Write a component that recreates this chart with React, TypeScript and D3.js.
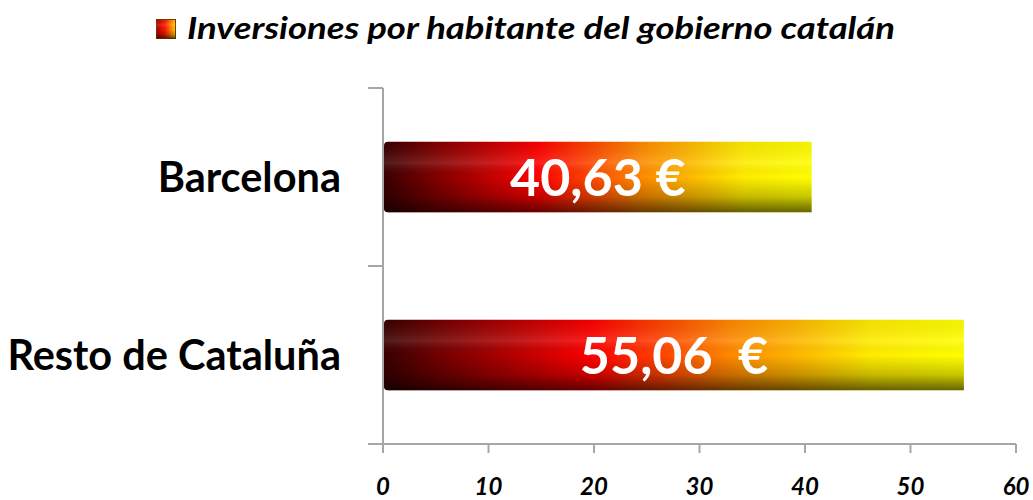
import React from "react";
import * as d3 from "d3";

const title = "Inversiones por habitante del gobierno catalán";
const categories = ["Barcelona", "Resto de Cataluña"];
const values = [40.63, 55.06];
const valueLabels = ["40,63 €", "55,06  €"];
const xTicks = [0, 10, 20, 30, 40, 50, 60];

const W = 1033;
const H = 500;
const FONT = "Lato, 'Open Sans', sans-serif";
const AXIS = "#a6a6a6";

export default function App() {
  const x = d3.scaleLinear().domain([0, 60]).range([383, 1016]);
  const y = d3.scaleBand<string>().domain(categories).range([88, 444]).padding(0);
  const barH = y.bandwidth() * 0.395;

  return (
    <svg width={W} height={H} style={{ position: "absolute", left: 0, top: 0 }}>
      <defs>
        <linearGradient id="hgrad" x1="0" y1="0" x2="1" y2="0">
          <stop offset="0" stopColor="#3a0000" />
          <stop offset="0.12" stopColor="#800000" />
          <stop offset="0.36" stopColor="#ff0000" />
          <stop offset="0.6" stopColor="#ff8a00" />
          <stop offset="0.84" stopColor="#ffec00" />
          <stop offset="1" stopColor="#ffff00" />
        </linearGradient>
        <linearGradient id="vgrad" x1="0" y1="0" x2="0" y2="1">
          <stop offset="0" stopColor="#000" stopOpacity="0.05" />
          <stop offset="0.3" stopColor="#fff" stopOpacity="0.12" />
          <stop offset="0.5" stopColor="#000" stopOpacity="0" />
          <stop offset="0.78" stopColor="#000" stopOpacity="0.22" />
          <stop offset="1" stopColor="#000" stopOpacity="0.6" />
        </linearGradient>
        <linearGradient id="icon" x1="0" y1="0" x2="1" y2="0">
          <stop offset="0" stopColor="#b00000" />
          <stop offset="0.45" stopColor="#ff1a00" />
          <stop offset="1" stopColor="#ffd000" />
        </linearGradient>
      </defs>

      {/* legend / title */}
      <rect x={156.5} y={19.5} width={19} height={19} fill="url(#icon)" stroke="#7a3a00" strokeWidth={1} />
      <rect x={156.5} y={19.5} width={19} height={19} fill="url(#vgrad)" />
      <text
        x={187}
        y={39}
        fontFamily={FONT}
        fontSize={30}
        fontWeight="bold"
        fontStyle="italic"
        fill="#000"
        textLength={708}
        lengthAdjust="spacingAndGlyphs"
      >
        {title}
      </text>

      {/* axes */}
      <line x1={x(0)} x2={x(0)} y1={88} y2={444} stroke={AXIS} strokeWidth={2} />
      {[88, ...categories.map(c => (y(c) as number) + y.bandwidth())].map((t, i) => (
        <line key={"yt" + i} x1={368} x2={x(0)} y1={t} y2={t} stroke={AXIS} strokeWidth={2} />
      ))}
      <line x1={368} x2={x(60)} y1={444} y2={444} stroke={AXIS} strokeWidth={2} />
      {xTicks.map(t => (
        <g key={"xt" + t}>
          <line x1={x(t)} x2={x(t)} y1={444} y2={453} stroke={AXIS} strokeWidth={2} />
          <text x={x(t)} y={495} textAnchor="middle" fontFamily={FONT} fontSize={24} fontWeight="bold" fontStyle="italic" fill="#000">
            {t}
          </text>
        </g>
      ))}

      {/* bars */}
      {categories.map((c, i) => {
        const cy = (y(c) as number) + y.bandwidth() / 2;
        const x0 = x(0) + 1;
        const w = x(values[i]) - x0;
        const path = `M${x0 + 4},${cy - barH / 2} H${x0 + w} V${cy + barH / 2} H${x0 + 4} Q${x0},${cy + barH / 2} ${x0},${cy + barH / 2 - 4} V${cy - barH / 2 + 4} Q${x0},${cy - barH / 2} ${x0 + 4},${cy - barH / 2} Z`;
        return (
          <g key={c}>
            <path d={path} fill="url(#hgrad)" />
            <path d={path} fill="url(#vgrad)" />
            <text
              x={(x0 + x(values[i])) / 2}
              y={cy}
              dy="0.36em"
              textAnchor="middle"
              fontFamily={FONT}
              fontSize={52}
              fontWeight="bold"
              fill="#fff"
              style={{ whiteSpace: "pre" }}
            >
              {valueLabels[i]}
            </text>
            <text x={341} y={cy} dy="0.36em" textAnchor="end" fontFamily={FONT} fontSize={41.5} fontWeight="bold" fill="#000">
              {c}
            </text>
          </g>
        );
      })}
    </svg>
  );
}
